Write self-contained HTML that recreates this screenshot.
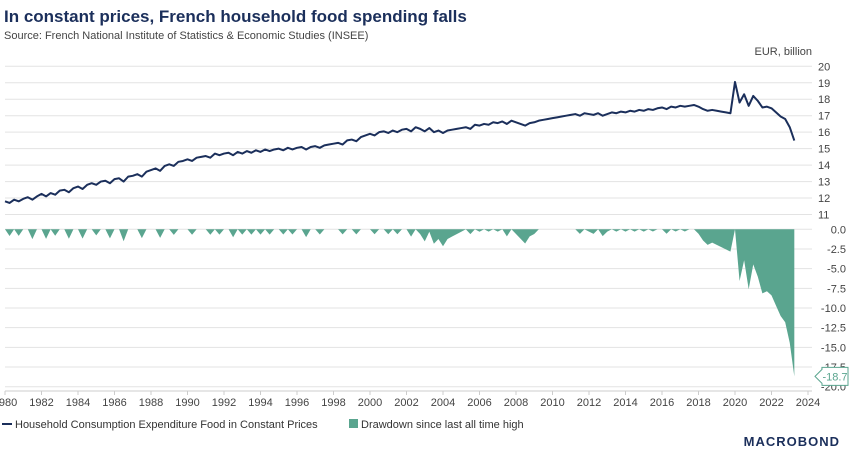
<!DOCTYPE html>
<html><head><meta charset="utf-8"><style>
body{margin:0;width:850px;height:453px;background:#fff;overflow:hidden;font-family:"Liberation Sans",sans-serif}
svg{position:absolute;left:0;top:0}
</style></head><body>
<svg id="c" width="850" height="453">
<text x="4" y="22" font-size="17" font-weight="bold" fill="#1b2f5b">In constant prices, French household food spending falls</text>
<text x="4" y="39" font-size="11" fill="#444">Source: French National Institute of Statistics &amp; Economic Studies (INSEE)</text>
<text x="812" y="55" font-size="11" fill="#444" text-anchor="end">EUR, billion</text>
<g id="grid"></g><g id="marks"></g><g id="axes"></g>
<g>
<line x1="2" y1="424" x2="12" y2="424" stroke="#1b2f5b" stroke-width="2"/>
<text x="15" y="428" font-size="11" fill="#333">Household Consumption Expenditure Food in Constant Prices</text>
<rect x="349" y="419" width="9" height="9" fill="#5aa58f"/>
<text x="361" y="428" font-size="11" fill="#333">Drawdown since last all time high</text>
</g>
<text x="840" y="446" font-size="13" font-weight="bold" fill="#1b2f5b" text-anchor="end" letter-spacing="1">MACROBOND</text>
</svg>
<script>
const startYear = 1980;
const values = [11.8,11.7,11.9,11.8, 11.95,12.05,11.9,12.1, 12.25,12.1,12.3,12.2, 12.45,12.5,12.35,12.6,
12.7,12.55,12.8,12.9, 12.8,13.0,13.05,12.9, 13.15,13.2,13.0,13.3, 13.35,13.45,13.3,13.6, 13.7,13.8,13.65,13.95,
14.05,13.95,14.2,14.25, 14.35,14.25,14.45,14.5, 14.55,14.45,14.7,14.6, 14.7,14.75,14.6,14.8, 14.7,14.85,14.75,14.9,
14.8,14.95,14.85,14.95, 15.0,14.9,15.05,14.95, 15.05,15.1,14.95,15.1, 15.15,15.05,15.2,15.25, 15.3,15.35,15.25,15.5,
15.55,15.45,15.7,15.8, 15.9,15.8,16.0,16.05, 15.95,16.1,16.0,16.15, 16.2,16.05,16.3,16.2, 16.05,16.25,16.0,16.1,
15.95,16.1,16.15,16.2, 16.25,16.3,16.2,16.45, 16.4,16.5,16.45,16.6, 16.55,16.65,16.5,16.7, 16.6,16.5,16.4,16.55,
16.6,16.7,16.75,16.8, 16.85,16.9,16.95,17.0, 17.05,17.1,17.0,17.15, 17.1,17.05,17.15,17.0, 17.1,17.2,17.15,17.25,
17.2,17.3,17.25,17.35, 17.3,17.4,17.35,17.45, 17.5,17.4,17.55,17.5, 17.6,17.55,17.6,17.65, 17.55,17.4,17.3,17.35,
17.3,17.25,17.2,17.15, 19.05,17.8,18.3,17.6, 18.2,17.9,17.5,17.55, 17.45,17.2,16.95,16.8, 16.3,15.49];
const topTicks = [11,12,13,14,15,16,17,18,19,20];
const ddTicks = [0,-2.5,-5,-7.5,-10,-12.5,-15,-17.5,-20];
const yearTicks = [1980,1982,1984,1986,1988,1990,1992,1994,1996,1998,2000,2002,2004,2006,2008,2010,2012,2014,2016,2018,2020,2022,2024];

const NS="http://www.w3.org/2000/svg";
const X0=5,X1=808;
const xs=y=>X0+(y-1980)/(2024-1980)*(X1-X0);
const yt=v=>214.5-(v-11)/(20-11)*(214.5-66.3);
const yd=v=>229.3+(-v)/20*(386.7-229.3);
function mk(tag,attrs,parent){const e=document.createElementNS(NS,tag);for(const k in attrs)e.setAttribute(k,attrs[k]);parent.appendChild(e);return e;}
const grid=document.getElementById('grid'),marks=document.getElementById('marks'),axes=document.getElementById('axes');
topTicks.forEach(t=>{
 const l=mk('line',{x1:X0,x2:812,y1:yt(t),y2:yt(t),stroke:'#e3e3e3','stroke-width':1},grid);
 
 
 const tx=mk('text',{x:818,y:yt(t)+4,'font-size':11,fill:'#444'},axes);tx.textContent=t;
 
 
});
ddTicks.forEach(t=>{
 const l=mk('line',{x1:X0,x2:812,y1:yd(t),y2:yd(t),stroke:'#e3e3e3','stroke-width':1},grid);
 
 
 const tx=mk('text',{x:846,y:yd(t)+4,'font-size':11,fill:'#444','text-anchor':'end'},axes);tx.textContent=t.toFixed(1);
 
 
});
mk('line',{x1:X0,x2:812,y1:391,y2:391,stroke:'#ccc'},axes);
yearTicks.forEach(y=>{
 mk('line',{x1:xs(y),x2:xs(y),y1:391,y2:395,stroke:'#ccc'},axes);
 const tx=mk('text',{x:xs(y),y:406,'font-size':11,fill:'#444','text-anchor':'middle'},axes);tx.textContent=y;
 
 
});
let peak=-Infinity;const dd=values.map(v=>{peak=Math.max(peak,v);return (v/peak-1)*100;});
const tOf=i=>startYear+i*0.25;
let d=`M${xs(tOf(0))},${yd(0)}`;dd.forEach((v,i)=>d+=`L${xs(tOf(i))},${yd(v)}`);d+=`L${xs(tOf(dd.length-1))},${yd(0)}Z`;
const area=mk('path',{d:d,fill:'#5aa58f'},marks);


let p='';values.forEach((v,i)=>p+=(i?'L':'M')+xs(tOf(i))+','+yt(v));
const line=mk('path',{d:p,fill:'none',stroke:'#1b2f5b','stroke-width':2,'stroke-linejoin':'round'},marks);


const last=dd[dd.length-1],ly=yd(last);
const g=mk('g',{},axes);


mk('path',{d:`M815,${ly} L822,${ly-7} L822,${ly-9} L848,${ly-9} L848,${ly+9} L822,${ly+9} L822,${ly+7} Z`,fill:'#fff',stroke:'#5aa58f'},g);
const lt=mk('text',{x:835,y:ly+4,'font-size':11,fill:'#5aa58f','text-anchor':'middle'},g);lt.textContent=last.toFixed(1);
</script>
</body></html>
